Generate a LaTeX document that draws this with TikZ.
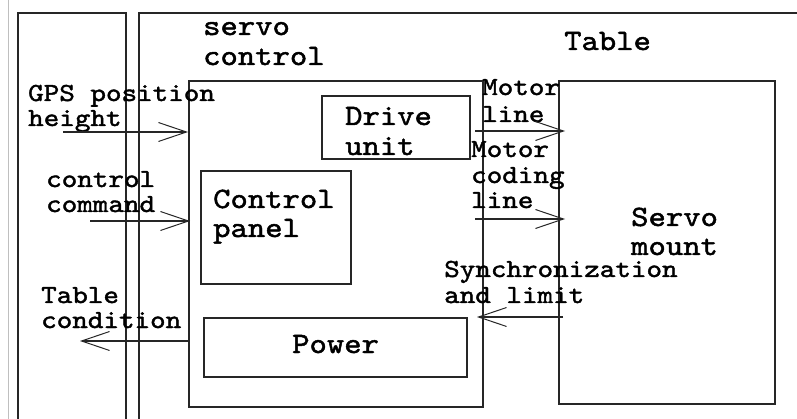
\documentclass[tikz,border=0pt]{standalone}
\usepackage{fontspec}
\newfontfamily\reffont[FakeStretch=1.12,FakeBold=1.6]{lmmono10-regular.otf}
\newfontfamily\lblfont[FakeStretch=1.14,FakeBold=1.6]{lmmono10-regular.otf}
\usetikzlibrary{arrows.meta}
\begin{document}
\begin{tikzpicture}[x=1pt,y=-1pt,
  frame/.style={draw=black!85, line width=1.8pt},
  box/.style={draw=black!85, line width=1.8pt, inner sep=0pt, anchor=north west},
  big/.style={anchor=base west, inner sep=0pt, font=\fontsize{29.5}{29.5}\selectfont\reffont},
  lbl/.style={anchor=base west, inner sep=0pt, font=\fontsize{26}{26}\selectfont\lblfont},
  arr/.style={draw=black!85, line width=1.3pt, -{Straight Barb[length=28pt,width=19pt,line width=1pt]}}]
\useasboundingbox (0,0) rectangle (797,419);
\fill[white] (0,0) rectangle (797,419);
% thin gray edge line
\draw[black!25, line width=0.8pt] (8,0) -- (8,419);
% left panel and table frame (cut by the picture edges)
\draw[frame] (18,419) -- (18,13) -- (126,13) -- (126,419);
\draw[frame] (139,419) -- (139,13) -- (797,13);
% boxes
\node[box, minimum width=294pt, minimum height=326pt] (sc) at (188,80) {};
\node[box, minimum width=148pt, minimum height=63pt] (du) at (321,95) {};
\node[box, minimum width=150pt, minimum height=113pt] (cp) at (200,170) {};
\node[box, minimum width=263pt, minimum height=59pt] (pw) at (203,317) {};
\node[box, minimum width=216pt, minimum height=323pt] (sm) at (558,80) {};
% box and area titles
\node[big] (tSa) at (203,35) {servo};
\node[big] (tSb) at (203,65) {control};
\node[big] (tTab) at (564,50) {Table};
\node[big] (tDa) at (345,125) {Drive};
\node[big] (tDb) at (345,155) {unit};
\node[big] (tCa) at (213,208) {Control};
\node[big] (tCb) at (213,237) {panel};
\node[big] (tPw) at (292,353) {Power};
\node[big] (tMa) at (631,226) {Servo};
\node[big] (tMb) at (631,255) {mount};
% arrow labels
\node[lbl] (gA) at (28,101) {GPS position};
\node[lbl] (gB) at (28,126) {height};
\node[lbl] (cA) at (46,187) {control};
\node[lbl] (cB) at (46,212) {command};
\node[lbl] (kA) at (41,303) {Table};
\node[lbl] (kB) at (41,328) {condition};
\node[lbl] (mA) at (482,95) {Motor};
\node[lbl] (mB) at (482,122) {line};
\node[lbl] (nA) at (471,157) {Motor};
\node[lbl] (nB) at (471,183) {coding};
\node[lbl] (nC) at (471,208) {line};
\node[lbl] (yA) at (444,277) {Synchronization};
\node[lbl] (yB) at (444,303) {and limit};
% connector ends
\coordinate (gpsS) at (63,132);
\coordinate (cmdS) at (90,221);
\coordinate (condE) at (80,341);
\coordinate (m1S) at (475,131);
\coordinate (m1E) at (565,131);
\coordinate (m2S) at (475,219);
\coordinate (m2E) at (565,219);
\coordinate (syS) at (563,317);
\coordinate (syE) at (477,317);
% connectors
\draw[arr] (gpsS) -- (gpsS -| sc.west);
\draw[arr] (cmdS) -- ([xshift=2pt]cmdS -| sc.west);
\draw[arr] (sc.west |- condE) -- (condE);
\draw[arr] (m1S) -- (m1E);
\draw[arr] (m2S) -- (m2E);
\draw[arr] (syS) -- (syE);
\end{tikzpicture}
\end{document}
